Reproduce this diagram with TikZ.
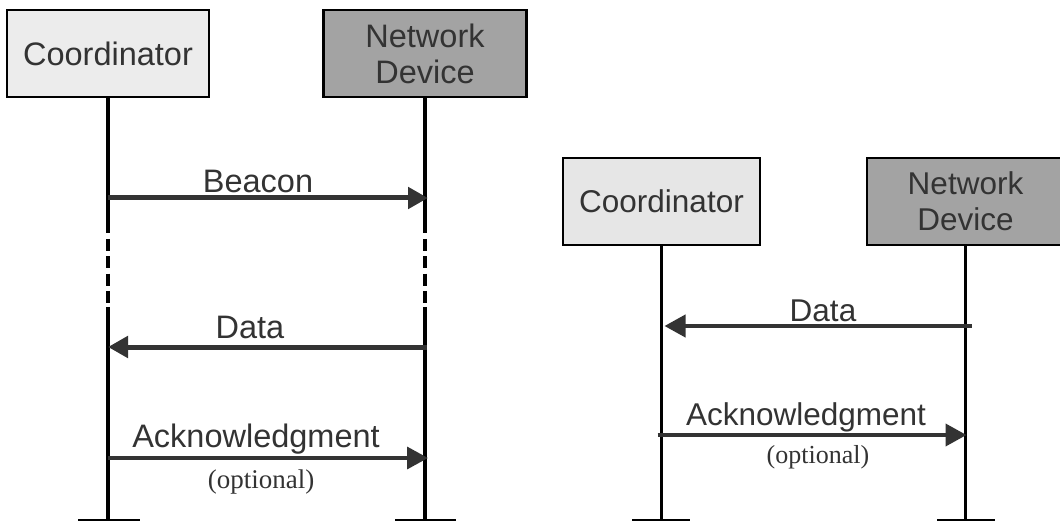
\documentclass[tikz,border=0pt]{standalone}
\usepackage{fontspec}
\setmainfont{Liberation Sans}
\newfontfamily\notefont{Liberation Serif}
\usetikzlibrary{arrows.meta}
\definecolor{coordfill}{HTML}{ECECEC}
\definecolor{coordfillB}{HTML}{E6E6E6}
\definecolor{devfill}{HTML}{A3A3A3}
\definecolor{ink}{HTML}{333333}
\begin{document}
\begin{tikzpicture}[x=1pt,y=-1pt,
  actor/.style={draw=black, line width=2.5pt, inner sep=0pt, align=center,
    minimum height=87pt, font=\fontsize{32.5}{36}\selectfont, text=ink},
  lifeA/.style={draw=black, line width=3.5pt},
  lifeB/.style={draw=black, line width=2.5pt},
  msgthick/.style={draw=ink, line width=5pt, -{Triangle[length=20pt,width=21pt]}},
  msgthin/.style={draw=ink, line width=3.5pt, -{Triangle[length=21pt,width=22pt]}},
  lbl/.style={anchor=base, inner sep=0pt, text=ink, font=\fontsize{32.5}{36}\selectfont},
  note/.style={anchor=base, inner sep=0pt, text=ink, font=\notefont\fontsize{27}{30}\selectfont},
  foot/.style={draw=black, line width=5pt}
]
\useasboundingbox (0,0) rectangle (1060,521);

% ---------------- beacon-enabled exchange ----------------
\node[actor, fill=coordfill, minimum width=202pt] (coordA) at (108,53.5) {Coordinator};
\node[actor, fill=devfill, minimum width=203pt] (devA) at (425,53.5) {Network\\Device};

\coordinate (solidEnd) at (0,233);
\coordinate (dashTop) at (0,239);
\coordinate (dashBot) at (0,303);
\coordinate (solidStart) at (0,307);
\coordinate (endA) at (0,521);

% lifelines, interrupted by a dashed stretch
\draw[lifeA] (coordA.south) -- (coordA.south |- solidEnd);
\draw[lifeA, dash pattern=on 12pt off 5.33pt] (coordA.south |- dashTop) -- (coordA.south |- dashBot);
\draw[lifeA] (coordA.south |- solidStart) -- (coordA.south |- endA);
\draw[lifeA] (devA.south) -- (devA.south |- solidEnd);
\draw[lifeA, dash pattern=on 12pt off 5.33pt] (devA.south |- dashTop) -- (devA.south |- dashBot);
\draw[lifeA] (devA.south |- solidStart) -- (devA.south |- endA);

% lifeline feet
\coordinate (footA1a) at (78,521);  \coordinate (footA1b) at (140,521);
\coordinate (footA2a) at (395,521); \coordinate (footA2b) at (456,521);
\draw[foot] (footA1a) -- (footA1b);
\draw[foot] (footA2a) -- (footA2b);

% messages
\coordinate (yBeacon) at (0,198);
\coordinate (yDataA) at (0,347);
\coordinate (yAckA) at (0,458);
\draw[msgthick] (coordA.south |- yBeacon) -- ([xshift=3pt]devA.south |- yBeacon);
\draw[msgthick] ([xshift=2pt]devA.south |- yDataA) -- (coordA.south |- yDataA);
\draw[msgthin] (coordA.south |- yAckA) -- ([xshift=3pt]devA.south |- yAckA);

\node[lbl] (beaconLbl) at (258,193) {Beacon};
\node[lbl] (dataLblA) at (250,338) {Data};
\node[lbl] (ackLblA) at (256,447) {Acknowledgment};
\node[note] (optA) at (261,488) {(optional)};

% ---------------- non-beacon exchange ----------------
\node[actor, fill=coordfillB, minimum width=197pt,
  font=\fontsize{31.5}{36}\selectfont] (coordB) at (661.5,201.5) {Coordinator};
\node[actor, fill=devfill, minimum width=197pt,
  font=\fontsize{31.5}{36}\selectfont] (devB) at (965.5,201.5) {Network\\Device};

\draw[lifeB] (coordB.south) -- (coordB.south |- endA);
\draw[lifeB] (devB.south) -- (devB.south |- endA);

\coordinate (footB1a) at (632,521); \coordinate (footB1b) at (690,521);
\coordinate (footB2a) at (937,521); \coordinate (footB2b) at (995,521);
\draw[foot] (footB1a) -- (footB1b);
\draw[foot] (footB2a) -- (footB2b);

\coordinate (yDataB) at (0,326);
\coordinate (yAckB) at (0,435);
\draw[msgthin, line width=4pt] ([xshift=6pt]devB.south |- yDataB) -- ([xshift=3pt]coordB.south |- yDataB);
\draw[msgthin, line width=4pt] ([xshift=-4pt]coordB.south |- yAckB) -- ([xshift=1pt]devB.south |- yAckB);

\node[lbl, font=\fontsize{31.5}{36}\selectfont] (dataLblB) at (823,322) {Data};
\node[lbl, font=\fontsize{31.5}{36}\selectfont] (ackLblB) at (806,425) {Acknowledgment};
\node[note, font=\notefont\fontsize{26}{30}\selectfont] (optB) at (818,463) {(optional)};
\end{tikzpicture}
\end{document}
